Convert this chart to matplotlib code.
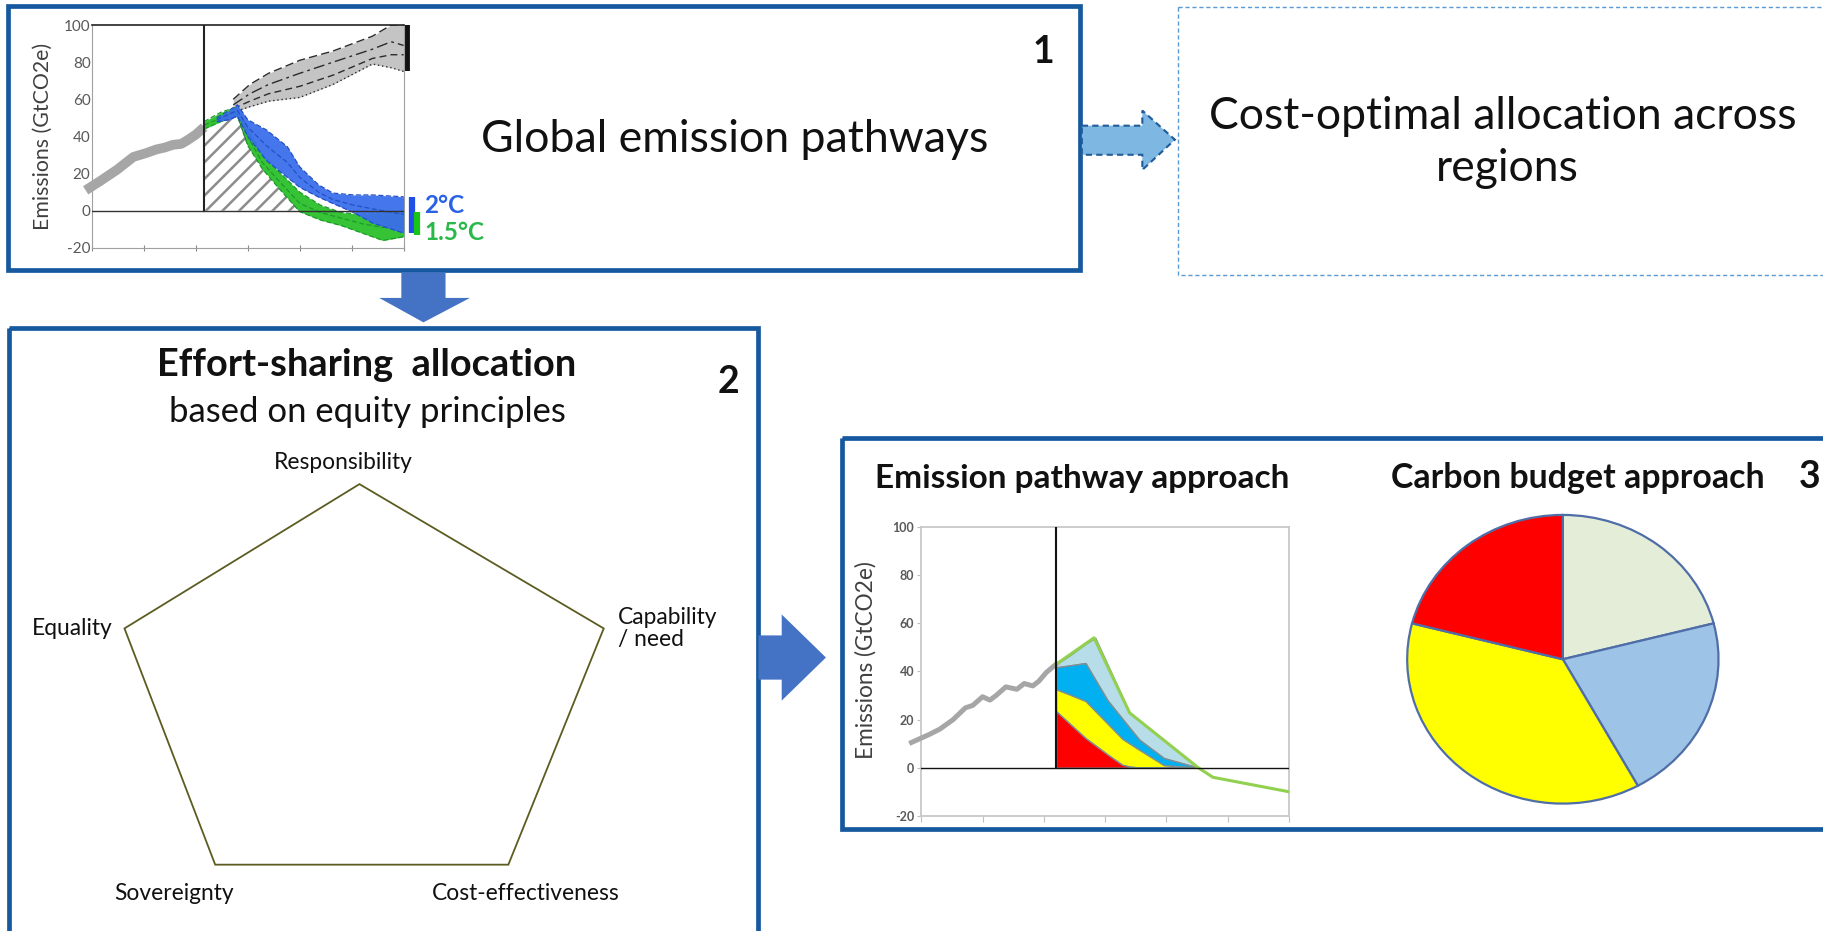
import matplotlib
matplotlib.use('Agg')
import matplotlib.pyplot as plt
from matplotlib.patches import Rectangle, Polygon

plt.rcParams['font.family'] = ['Lato', 'DejaVu Sans']
plt.rcParams['hatch.linewidth'] = 1.8
plt.rcParams['hatch.color'] = '#8c8c8c'

# ---------------- data ----------------
# Panel 1: global emission pathways (GtCO2e)
hist_years = [1947, 1954, 1962, 1970, 1976, 1981, 1985, 1989, 1993, 1996, 2000, 2004]
hist_vals = [11, 16, 22, 29, 31, 33, 34, 35.5, 36, 38, 41, 45]

base_years = [2018, 2026, 2035, 2050, 2066, 2085, 2094, 2100]
base_hi = [60, 68, 74, 81, 86, 94, 100, 100]
base_lo = [53, 56, 59, 61, 68, 79, 77, 75]
base_in1 = [57, 63, 68, 74, 80, 87, 91, 89]
base_in2 = [55, 59, 63, 67, 73, 82, 84, 84]

blue_years = [2010, 2016, 2020, 2025, 2034, 2044, 2050, 2059, 2066, 2076, 2085, 2100]
blue_hi = [50, 54, 57, 49, 43.5, 34.5, 23.6, 14, 9.5, 8.5, 8.5, 7.5]
blue_lo = [48, 49, 51, 40, 27, 18, 12.6, 7.4, 3.9, -1, -6.6, -12]
blue_in = [49, 52, 54, 45, 35, 26, 18, 10, 6, 3, 1, -2]

green_years = [2004, 2012, 2020, 2025, 2032, 2040, 2050, 2060, 2070, 2080, 2090, 2100]
green_hi = [48, 53, 56, 44, 30, 21, 10, 3, -1, -2, -1, 0]
green_lo = [44, 48, 51, 35, 22.5, 12, -0.5, -5, -8, -12, -16, -14]
green_in = [46, 50, 53, 40, 26, 16, 4, -1, -4, -7, -9, -8]

hatch_years = [2004, 2020, 2025, 2032, 2040, 2050]
hatch_top = [45, 51.5, 36, 23.5, 13, 0]

base_bar = [75, 100]
blue_bar = [-12, 7.5]
green_bar = [-13, -0.7]

# Panel 3: emission pathway approach (stacked regional shares)
hist3_years = [1946, 1953, 1957.5, 1963, 1968, 1971, 1975, 1978, 1980.5, 1984.5, 1989, 1992, 1995.5, 1998, 2001, 2005]
hist3_vals = [10.5, 13.7, 16, 20, 24.9, 25.9, 29.5, 28.1, 30, 33.6, 32.6, 35, 34, 36, 39.6, 43]
years3 = [2005, 2011, 2017, 2021, 2026, 2032, 2035, 2039, 2049, 2063]
red_top = [23.5, 17.9, 12.3, 9.3, 5.5, 1.2, 0.5, 0, 0, 0]
yellow_top = [32.6, 30.2, 27.7, 23.5, 18.3, 12, 10, 7.4, 1, 0]
blue_top = [41.7, 42.6, 43.5, 36.6, 28, 20.4, 16.6, 11.6, 4, 0]
lb_top = [43, 47, 51.5, 54, 42.9, 29.5, 22.8, 19.5, 11.4, 0]
green3_years = [2005, 2020.5, 2035, 2063, 2069, 2100]
green3_vals = [43, 54, 22.8, 0, -4, -10]

# Carbon budget pie (shares, clockwise from 12 o'clock)
pie_shares = [21, 21, 37, 21]
pie_colors = ['#e3edd7', '#9dc3e6', '#ffff00', '#ff0000']

yticks_vals = [-20, 0, 20, 40, 60, 80, 100]
xticks_years = [1950, 1975, 2000, 2025, 2050, 2075, 2100]

principles = ['Responsibility', 'Capability\n/ need', 'Cost-effectiveness', 'Sovereignty', 'Equality']

# ---------------- layout ----------------
W, H = 1568, 800
S = 1824 / 1568
fig = plt.figure(figsize=(18.24, 9.31), dpi=100)
renderer = fig.canvas.get_renderer()


def rect(x0, y0, x1, y1):
    return [x0 / W, 1 - y1 / H, (x1 - x0) / W, (y1 - y0) / H]


ax0 = fig.add_axes([0, 0, 1, 1])
ax0.set_xlim(0, W)
ax0.set_ylim(H, 0)
ax0.axis('off')


def fit(ax, x, y, s, width, size0=20, rot=0, **kw):
    t = ax.text(x, y, s, fontsize=size0, **kw)
    w = t.get_window_extent(renderer=renderer).width
    t.set_fontsize(size0 * width * S / w)
    if rot:
        t.set_rotation(rot)
    return t


BOX = '#17599e'
ARROW = '#4472c4'

# boxes
ax0.add_patch(Rectangle((7, 5), 921, 227, fill=False, ec=BOX, lw=3.4))
ax0.add_patch(Rectangle((8, 282), 644, 540, fill=False, ec=BOX, lw=3.4, clip_on=False))
ax0.add_patch(Rectangle((724, 376), 900, 336, fill=False, ec=BOX, lw=3.4, clip_on=False))
ax0.add_patch(Rectangle((1013, 6), 600, 230, fill=False, ec='#5b9bd5', lw=1.0,
                        ls=(0, (3, 2)), clip_on=False))

# arrows
ax0.add_patch(Polygon([(345, 234), (383, 234), (383, 256), (404, 256), (364, 277),
                       (326, 256), (345, 256)], closed=True, fc=ARROW, ec='none'))
ax0.add_patch(Polygon([(652, 546), (672, 546), (672, 528), (710, 565), (672, 602),
                       (672, 584), (652, 584)], closed=True, fc=ARROW, ec='none'))
ax0.add_patch(Polygon([(930, 108), (982, 108), (982, 95), (1010, 120), (982, 146),
                       (982, 133), (930, 133)], closed=True, fc='#7db7e2', ec='#1f5c99',
                      lw=1.5, ls=(0, (3, 2))))

# texts
fit(ax0, 632, 120, 'Global emission pathways', 437, ha='center', va='center', color='#111')
t1 = fit(ax0, 1292, 100, 'Cost-optimal allocation across', 505, ha='center', va='center', color='#111')
ax0.text(1296, 145, 'regions', fontsize=t1.get_fontsize(), ha='center', va='center', color='#111')
ax0.text(897, 45, '1', fontsize=27, fontweight='bold', ha='center', va='center', color='#111')
ax0.text(626, 328, '2', fontsize=27, fontweight='bold', ha='center', va='center', color='#111')
ax0.text(1556, 410, '3', fontsize=27, fontweight='bold', ha='center', va='center', color='#111')

fit(ax0, 315, 314, 'Effort-sharing  allocation', 360, ha='center', va='center',
    fontweight='bold', color='#111')
fit(ax0, 316, 354, 'based on equity principles', 341, ha='center', va='center', color='#111')

fit(ax0, 930, 411, 'Emission pathway approach', 356, ha='center', va='center',
    fontweight='bold', color='#111')
fit(ax0, 1356, 411, 'Carbon budget approach', 321, ha='center', va='center',
    fontweight='bold', color='#111')

# pentagon
pent = [(309, 416), (519, 540), (437, 743), (185, 743), (107, 540)]
ax0.add_patch(Polygon(pent, closed=True, fill=False, ec='#5c5c22', lw=1.3))
tp = fit(ax0, 452, 768, principles[2], 161, ha='center', va='center', color='#111')
fs_p = tp.get_fontsize()
ax0.text(295, 397, principles[0], fontsize=fs_p, ha='center', va='center', color='#111')
ax0.text(531, 540, principles[1], fontsize=fs_p, ha='left', va='center', color='#111',
         linespacing=1.05)
ax0.text(150, 768, principles[3], fontsize=fs_p, ha='center', va='center', color='#111')
ax0.text(62, 540, principles[4], fontsize=fs_p, ha='center', va='center', color='#111')

# ---------------- panel 1 chart ----------------
ax1 = fig.add_axes(rect(79, 21.5, 347, 213))
ax1.set_xlim(1950, 2100)
ax1.set_ylim(-20, 100)
ax1.fill_between(hatch_years, 0, hatch_top, facecolor='white', edgecolor='#8c8c8c',
                 hatch='//', linewidth=0, zorder=1)
ax1.plot(hatch_years, hatch_top, color='#1c1c3a', lw=1.0, zorder=1.5)
ax1.fill_between(base_years, base_lo, base_hi, color='#c4c4c4', lw=0, zorder=2)
for arr, ls in [(base_hi, (0, (6, 3))), (base_lo, (0, (1, 2))), (base_in1, (0, (8, 3, 2, 3))),
                (base_in2, (0, (5, 3)))]:
    ax1.plot(base_years, arr, color='#2b2b2b', lw=1.0, ls=ls, zorder=2.5)
ax1.fill_between(green_years, green_lo, green_hi, color='#36c336', lw=0, zorder=3)
for arr in (green_hi, green_lo, green_in):
    ax1.plot(green_years, arr, color='#1f9a2a', lw=0.9, ls=(0, (4, 2)), zorder=3.2)
ax1.fill_between(blue_years, blue_lo, blue_hi, color='#3b6fea', lw=0, alpha=0.95, zorder=4)
for arr in (blue_hi, blue_lo, blue_in):
    ax1.plot(blue_years, arr, color='#2350c8', lw=0.9, ls=(0, (4, 2)), zorder=4.2)
ax1.plot(hist_years, hist_vals, color='#a6a6a6', lw=7, solid_capstyle='butt',
         clip_on=False, zorder=5)
ax1.plot([2004, 2004], [0, 100], color='#222222', lw=1.5, zorder=6)
ax1.axhline(0, color='#333333', lw=1.0, zorder=6)
ax1.plot([2101.7, 2101.7], base_bar, color='#111111', lw=4.2, solid_capstyle='butt', clip_on=False)
ax1.plot([2103.9, 2103.9], blue_bar, color='#1f4fe6', lw=4.5, solid_capstyle='butt', clip_on=False)
ax1.plot([2106.6, 2106.6], green_bar, color='#17c417', lw=4.5, solid_capstyle='butt', clip_on=False)
ax1.set_yticks(yticks_vals)
ax1.set_yticklabels([str(v) for v in yticks_vals], fontsize=11, color='#595959')
ax1.set_xticks(xticks_years)
ax1.set_xticklabels([])
ax1.tick_params(axis='y', length=0, pad=1)
ax1.tick_params(axis='x', length=4, direction='inout', color='#888888')
for side in ('left', 'right', 'bottom'):
    ax1.spines[side].set_color('#a0a0a0')
ax1.spines['top'].set_color('#222222')
ax1.spines['top'].set_linewidth(1.2)
fit(ax0, 37, 117, 'Emissions (GtCO2e)', 160, rot=90, ha='center', va='center', color='#404040')
t2 = fit(ax0, 365, 200, '1.5°C', 52, ha='left', va='center', color='#2ab84a', fontweight='bold')
ax0.text(365, 177, '2°C', fontsize=t2.get_fontsize(), ha='left', va='center',
         color='#2a62e6', fontweight='bold')

# ---------------- panel 3 chart ----------------
ax3 = fig.add_axes(rect(792, 453, 1108, 701))
ax3.set_xlim(1950, 2100)
ax3.set_ylim(-20, 100)
EDGE = '#7f8f94'
ax3.fill_between(years3, blue_top, lb_top, facecolor='#b7dde8', edgecolor=EDGE, lw=1, zorder=2)
ax3.fill_between(years3, yellow_top, blue_top, facecolor='#00b0f0', edgecolor=EDGE, lw=1, zorder=2)
ax3.fill_between(years3, red_top, yellow_top, facecolor='#ffff00', edgecolor=EDGE, lw=1, zorder=2)
ax3.fill_between(years3, 0, red_top, facecolor='#ff0000', edgecolor=EDGE, lw=1, zorder=2)
ax3.plot(green3_years, green3_vals, color='#92d050', lw=2.2, zorder=4)
ax3.plot(hist3_years, hist3_vals, color='#a6a6a6', lw=3.6, zorder=3, clip_on=False)
ax3.plot([2005, 2005], [0, 100], color='#111111', lw=1.5, zorder=5)
ax3.axhline(0, color='#111111', lw=1.0, zorder=5)
ax3.set_yticks(yticks_vals)
ax3.set_yticklabels([str(v) for v in yticks_vals], fontsize=9, color='#595959', fontweight='bold')
ax3.set_xticks(xticks_years)
ax3.set_xticklabels([])
ax3.tick_params(axis='y', length=3, color='#bfbfbf', pad=2)
ax3.tick_params(axis='x', length=4, color='#bfbfbf')
for side in ax3.spines:
    ax3.spines[side].set_color('#c8c8c8')
    ax3.spines[side].set_linewidth(1.3)
fit(ax0, 744, 567, 'Emissions (GtCO2e)', 170, rot=90, ha='center', va='center', color='#404040')

# ---------------- pie ----------------
axp = fig.add_axes(rect(1207, 440, 1480, 693))
axp.pie(pie_shares, colors=pie_colors, startangle=90, counterclock=False,
        wedgeprops=dict(edgecolor='#4f6ea8', linewidth=1.6))
axp.set_aspect('auto')
axp.set_xlim(-1.02, 1.02)
axp.set_ylim(-1.02, 1.02)
axp.axis('off')

fig.savefig('out.png', dpi=100)
